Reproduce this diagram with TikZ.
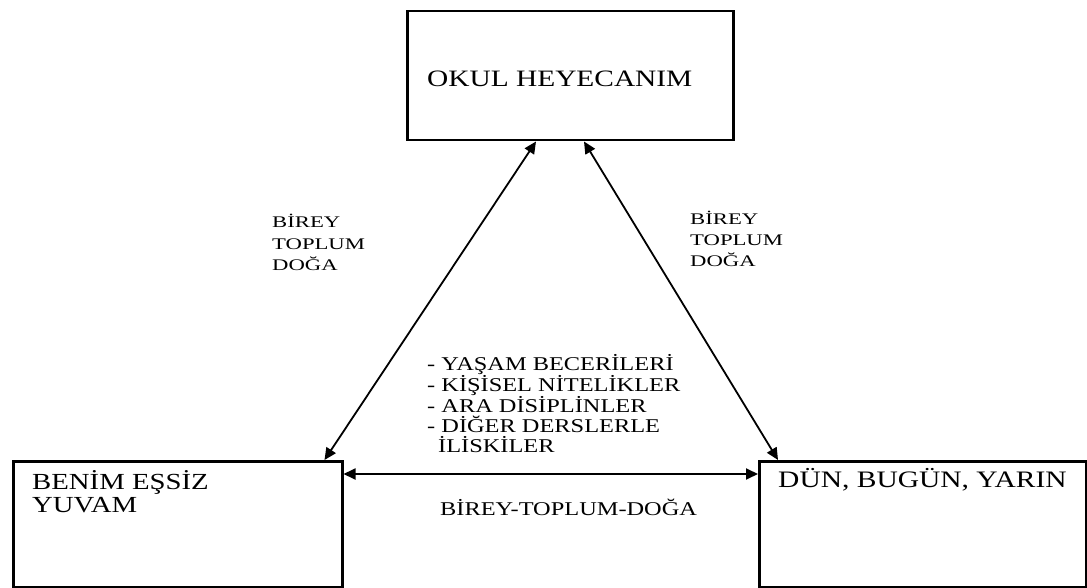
\documentclass[tikz,border=0pt]{standalone}
\usepackage{fontspec}
\setmainfont{Liberation Serif}
\newfontfamily\widefont{Liberation Serif}[FakeStretch=1.25]
\newfontfamily\widerfont{Liberation Serif}[FakeStretch=1.4]
\usetikzlibrary{arrows.meta}
\begin{document}
\begin{tikzpicture}[x=1pt,y=-1pt,
  box/.style={draw, line width=2.5pt, inner sep=0pt, anchor=north west},
  link/.style={line width=1.8pt, {Triangle[length=12pt,width=11pt]}-{Triangle[length=12pt,width=11pt]}},
  txt/.style={inner sep=0pt, anchor=base west},
  boxtext/.style={txt, font=\widefont\fontsize{23}{27}\selectfont},
  toptext/.style={txt, font=\widefont\fontsize{23.5}{27}\selectfont},
  sidetext/.style={txt, font=\widerfont\fontsize{16.2}{20}\selectfont},
  listtext/.style={txt, font=\widefont\fontsize{19.5}{21}\selectfont}]
\useasboundingbox (0,0) rectangle (1087,588);

% the three theme boxes
\node[box, minimum width=326pt, minimum height=129pt] (top) at (406,10) {};
\node[box, minimum width=329pt, minimum height=126pt] (left) at (12,460) {};
\node[box, minimum width=327pt, minimum height=126pt] (right) at (758,460) {};

% box titles
\node[toptext] (ttop) at (427,87) {OKUL HEYECANIM};
\node[boxtext] (tl1) at (32,489) {BENİM EŞSİZ};
\node[boxtext] (tl2) at (32,512) {YUVAM};
\node[boxtext, font=\widefont\fontsize{23.6}{27}\selectfont] (tr1) at (778,487) {DÜN, BUGÜN, YARIN};

% two-way links between the boxes
\draw[link] ([xshift=130pt]top.south west) -- ([xshift=-19pt]left.north east);
\draw[link] ([xshift=178pt]top.south west) -- ([xshift=20pt]right.north west);
\draw[link] ([yshift=-14pt]left.north east) -- ([yshift=-14pt]right.north west);

% link labels
\node[sidetext] (a1) at (272,228) {BİREY};
\node[sidetext] (a2) at (272,249) {TOPLUM};
\node[sidetext] (a3) at (272,270) {DOĞA};
\node[sidetext] (b1) at (690,225) {BİREY};
\node[sidetext] (b2) at (690,245) {TOPLUM};
\node[sidetext] (b3) at (690,266) {DOĞA};

\node[listtext] (c1) at (427,370) {- YAŞAM BECERİLERİ};
\node[listtext] (c2) at (427,391) {- KİŞİSEL NİTELİKLER};
\node[listtext] (c3) at (427,412) {- ARA DİSİPLİNLER};
\node[listtext] (c4) at (427,432) {- DİĞER DERSLERLE};
\node[listtext] (c5) at (438,452) {İLİSKİLER};

\node[listtext] (d1) at (440,515) {BİREY-TOPLUM-DOĞA};
\end{tikzpicture}
\end{document}
